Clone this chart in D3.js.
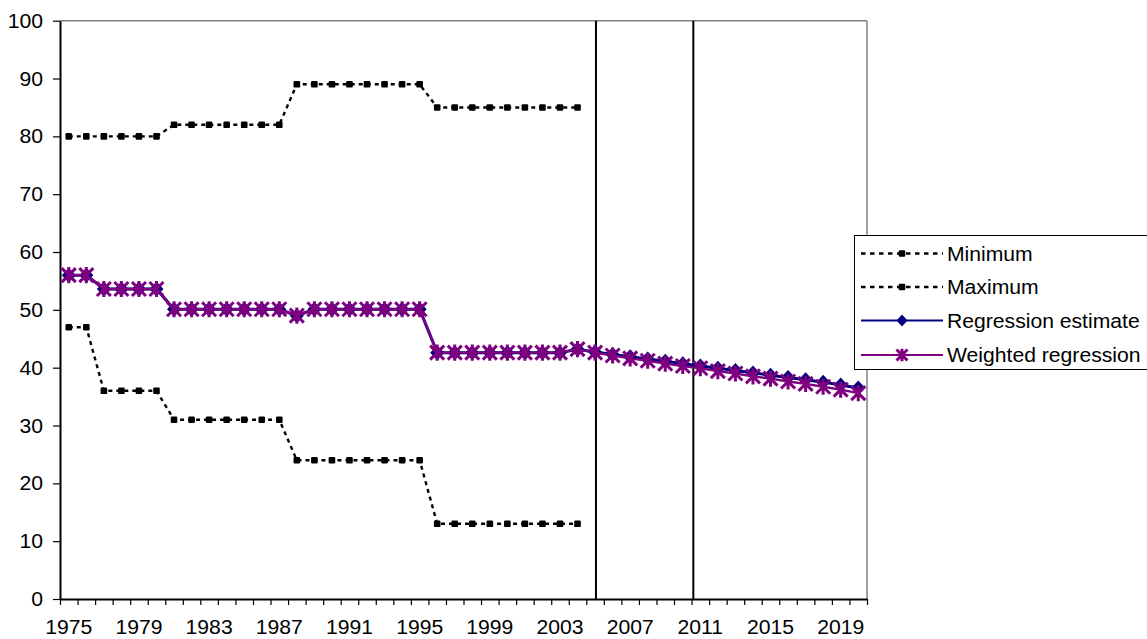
<!DOCTYPE html>
<html>
<head>
<meta charset="utf-8">
<script src="https://cdn.jsdelivr.net/npm/d3@7"></script>
<style>
  html, body { margin: 0; padding: 0; background: #fff; }
  svg { display: block; font-family: "Liberation Sans", Arial, sans-serif; }
</style>
</head>
<body>
<svg id="chart" width="1147" height="639"></svg>
<script>
// ---------- data ----------
const years = d3.range(1975, 2021);
const xTickLabels = [1975, 1979, 1983, 1987, 1991, 1995, 1999, 2003, 2007, 2011, 2015, 2019];
const yTickValues = [0, 10, 20, 30, 40, 50, 60, 70, 80, 90, 100];

const minimum = [47, 47, 36, 36, 36, 36, 31, 31, 31, 31, 31, 31, 31,
  24, 24, 24, 24, 24, 24, 24, 24,
  13, 13, 13, 13, 13, 13, 13, 13, 13];
const maximum = [80, 80, 80, 80, 80, 80, 82, 82, 82, 82, 82, 82, 82,
  89, 89, 89, 89, 89, 89, 89, 89,
  85, 85, 85, 85, 85, 85, 85, 85, 85];
const regression = [56.0, 56.0, 53.6, 53.6, 53.6, 53.6,
  50.1, 50.1, 50.1, 50.1, 50.1, 50.1, 50.1,
  49.0, 50.1, 50.1, 50.1, 50.1, 50.1, 50.1, 50.1,
  42.6, 42.6, 42.6, 42.6, 42.6, 42.6, 42.6, 42.6, 43.2,
  42.7, 42.3, 41.9, 41.5, 41.1, 40.7, 40.3, 39.9, 39.5, 39.1,
  38.7, 38.3, 37.9, 37.5, 37.0, 36.5];
const weighted = [56.0, 56.0, 53.6, 53.6, 53.6, 53.6,
  50.1, 50.1, 50.1, 50.1, 50.1, 50.1, 50.1,
  49.0, 50.1, 50.1, 50.1, 50.1, 50.1, 50.1, 50.1,
  42.6, 42.6, 42.6, 42.6, 42.6, 42.6, 42.6, 42.6, 43.2,
  42.6, 42.1, 41.6, 41.2, 40.7, 40.3, 39.9, 39.4, 39.0, 38.5,
  38.1, 37.6, 37.2, 36.7, 36.2, 35.6];
const verticalMarkers = [2005.05, 2010.6];

const seriesNames = ["Minimum", "Maximum", "Regression estimate", "Weighted regression"];

// ---------- layout ----------
const svg = d3.select("#chart");
const plotLeft = 60, plotRight = 867, plotTop = 20.7, plotBottom = 599;
const fontSize = 19.5;
const stretch = 1.085;

const x = d3.scaleLinear().domain([years[0] - 0.5, years[years.length - 1] + 0.5]).range([plotLeft, plotRight]);
const y = d3.scaleLinear().domain([0, 100]).range([plotBottom, plotTop]);

function stretchedText(g, tx, ty, str, anchor) {
  return g.append("text")
    .attr("transform", `translate(${tx},${ty}) scale(${stretch},1)`)
    .attr("text-anchor", anchor)
    .attr("font-size", fontSize).attr("fill", "#000")
    .text(str);
}

// plot border (top & right, gray)
svg.append("line").attr("x1", plotLeft).attr("x2", plotRight).attr("y1", plotTop).attr("y2", plotTop)
  .attr("stroke", "#808080").attr("stroke-width", 1.5);
svg.append("line").attr("x1", plotRight).attr("x2", plotRight).attr("y1", plotTop).attr("y2", plotBottom)
  .attr("stroke", "#808080").attr("stroke-width", 1.5);

// vertical marker lines
svg.selectAll(".vmark").data(verticalMarkers).enter().append("line")
  .attr("class", "vmark")
  .attr("x1", d => x(d)).attr("x2", d => x(d))
  .attr("y1", plotTop).attr("y2", plotBottom)
  .attr("stroke", "#000").attr("stroke-width", 2);

// y axis
const yAxis = d3.axisLeft(y).tickValues(yTickValues).tickSize(7).tickSizeOuter(0).tickFormat("");
const gy = svg.append("g").attr("transform", `translate(${plotLeft},0)`).call(yAxis);
gy.select(".domain").attr("stroke", "#000").attr("stroke-width", 2);
gy.selectAll(".tick line").attr("stroke", "#000").attr("stroke-width", 1.2);
const gyLabels = svg.append("g");
yTickValues.forEach(v => stretchedText(gyLabels, 43, y(v) + 7, v, "end"));

// x axis: ticks at category boundaries
const boundaries = d3.range(years[0] - 0.5, years[years.length - 1] + 1, 1);
const xAxis = d3.axisBottom(x).tickValues(boundaries).tickSize(6).tickSizeOuter(0).tickFormat("");
const gx = svg.append("g").attr("transform", `translate(0,${plotBottom})`).call(xAxis);
gx.select(".domain").attr("stroke", "#000").attr("stroke-width", 2);
gx.selectAll(".tick line").attr("stroke", "#000").attr("stroke-width", 1.2);
const gxLabels = svg.append("g");
xTickLabels.forEach(v => stretchedText(gxLabels, x(v), 634, v, "middle"));

// ---------- series ----------
const lineGen = d3.line().x((d, i) => x(years[i])).y(d => y(d));

function dottedSeries(values) {
  const g = svg.append("g");
  g.append("path").datum(values).attr("d", lineGen)
    .attr("fill", "none").attr("stroke", "#000").attr("stroke-width", 2.4)
    .attr("stroke-dasharray", "4,4");
  g.selectAll("rect").data(values).enter().append("rect")
    .attr("x", (d, i) => x(years[i]) - 3.3).attr("y", d => y(d) - 3.3)
    .attr("width", 6.6).attr("height", 6.6).attr("rx", 1.2).attr("fill", "#000");
}
dottedSeries(maximum);
dottedSeries(minimum);

function drawDiamond(g, cx, cy) {
  g.append("path").attr("d", "M0,-7.5L7,0L0,7.5L-7,0Z")
    .attr("transform", `translate(${cx},${cy})`).attr("fill", "#000080");
}
function drawStar(g, cx, cy, color, r) {
  const p = `M${-r},${-r}L${r},${r}M${-r},${r}L${r},${-r}M0,${-r * 1.15}L0,${r * 1.15}`;
  g.append("path").attr("d", p).attr("transform", `translate(${cx},${cy})`)
    .attr("fill", "none").attr("stroke", color).attr("stroke-width", 3);
}

const gReg = svg.append("g");
gReg.append("path").datum(regression).attr("d", lineGen)
  .attr("fill", "none").attr("stroke", "#000080").attr("stroke-width", 3);
regression.forEach((v, i) => drawDiamond(gReg, x(years[i]), y(v)));

const gW = svg.append("g");
gW.append("path").datum(weighted).attr("d", lineGen)
  .attr("fill", "none").attr("stroke", "#800080").attr("stroke-width", 2.4);
weighted.forEach((v, i) => drawStar(gW, x(years[i]), y(v), "#800080", 7));

// ---------- legend ----------
const lg = svg.append("g");
lg.append("rect").attr("x", 854.5).attr("y", 235.5).attr("width", 300).attr("height", 134)
  .attr("fill", "#fff").attr("stroke", "#000").attr("stroke-width", 1);
const rowY = [253.5, 287, 320.5, 355];
const lx1 = 861, lx2 = 943, lmid = 902, tx = 947;
seriesNames.forEach((name, i) => {
  const cy = rowY[i];
  if (i < 2) {
    lg.append("line").attr("x1", lx1).attr("x2", lx2).attr("y1", cy).attr("y2", cy)
      .attr("stroke", "#000").attr("stroke-width", 2.4).attr("stroke-dasharray", "4.5,4.5");
    lg.append("rect").attr("x", lmid - 3.3).attr("y", cy - 3.3).attr("width", 6.6).attr("height", 6.6)
      .attr("rx", 1.2).attr("fill", "#000");
  } else if (i === 2) {
    lg.append("line").attr("x1", lx1).attr("x2", lx2).attr("y1", cy).attr("y2", cy)
      .attr("stroke", "#000080").attr("stroke-width", 2.2);
    lg.append("path").attr("d", "M0,-6L5.5,0L0,6L-5.5,0Z")
      .attr("transform", `translate(${lmid},${cy})`).attr("fill", "#000080");
  } else {
    lg.append("line").attr("x1", lx1).attr("x2", lx2).attr("y1", cy).attr("y2", cy)
      .attr("stroke", "#800080").attr("stroke-width", 2.2);
    drawStar(lg, lmid, cy, "#800080", 5.5);
  }
  stretchedText(lg, tx, cy + 7, name, "start");
});
</script>
</body>
</html>
